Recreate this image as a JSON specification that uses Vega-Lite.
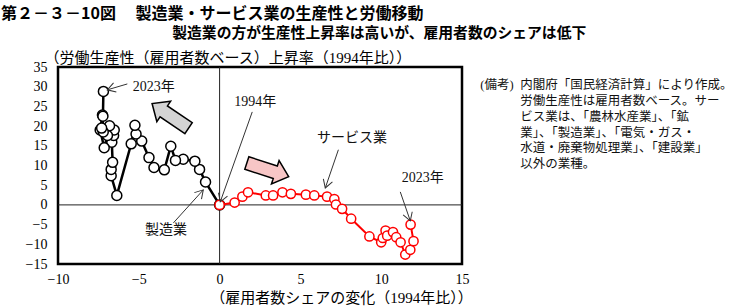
{
  "$schema": "https://vega.github.io/schema/vega-lite/v6.json",
  "width": 404,
  "height": 197,
  "autosize": "none",
  "padding": {"left": 58, "top": 67, "right": 278, "bottom": 44},
  "background": "white",
  "title": {
    "text": "第２－３－10図　 製造業・サービス業の生産性と労働移動",
    "anchor": "start",
    "frame": "group",
    "dx": -57,
    "offset": 4,
    "font": "Noto Sans CJK JP",
    "fontSize": 16,
    "fontWeight": "bold",
    "color": "black"
  },
  "config": {
    "view": {"stroke": "black", "strokeWidth": 2.5},
    "axis": {"grid": false, "labelOverlap": false}
  },
  "datasets": {
    "mfg": [
      {"i": 1, "x": 0, "y": 0},
      {"i": 2, "x": -0.87, "y": 5.8},
      {"i": 3, "x": -1.24, "y": 9.0},
      {"i": 4, "x": -1.53, "y": 11.1},
      {"i": 5, "x": -2.25, "y": 11.6},
      {"i": 6, "x": -2.73, "y": 11.3},
      {"i": 7, "x": -3.02, "y": 14.9},
      {"i": 8, "x": -3.42, "y": 8.9},
      {"i": 9, "x": -4.06, "y": 9.5},
      {"i": 10, "x": -4.37, "y": 12.0},
      {"i": 11, "x": -4.82, "y": 16.2},
      {"i": 12, "x": -5.17, "y": 18.0},
      {"i": 13, "x": -5.24, "y": 20.2},
      {"i": 14, "x": -5.47, "y": 15.5},
      {"i": 15, "x": -6.36, "y": 2.4},
      {"i": 16, "x": -6.71, "y": 7.4},
      {"i": 17, "x": -6.71, "y": 9.0},
      {"i": 18, "x": -6.62, "y": 10.8},
      {"i": 19, "x": -6.67, "y": 15.9},
      {"i": 20, "x": -6.56, "y": 17.6},
      {"i": 21, "x": -6.52, "y": 19.0},
      {"i": 22, "x": -6.81, "y": 20.1},
      {"i": 23, "x": -6.94, "y": 17.6},
      {"i": 24, "x": -7.14, "y": 14.5},
      {"i": 25, "x": -7.39, "y": 19.0},
      {"i": 26, "x": -7.25, "y": 22.8},
      {"i": 27, "x": -7.2, "y": 18.5},
      {"i": 28, "x": -7.3, "y": 19.5},
      {"i": 29, "x": -7.22, "y": 22.5},
      {"i": 30, "x": -7.19, "y": 28.8}
    ],
    "svc": [
      {"i": 1, "x": 0, "y": 0},
      {"i": 2, "x": 0.93, "y": 0.6},
      {"i": 3, "x": 1.41, "y": 2.1},
      {"i": 4, "x": 1.76, "y": 3.2},
      {"i": 5, "x": 2.86, "y": 2.4},
      {"i": 6, "x": 3.31, "y": 2.4},
      {"i": 7, "x": 3.89, "y": 3.2},
      {"i": 8, "x": 4.41, "y": 2.8},
      {"i": 9, "x": 5.34, "y": 2.6},
      {"i": 10, "x": 5.86, "y": 2.4},
      {"i": 11, "x": 6.65, "y": 2.1},
      {"i": 12, "x": 7.1, "y": 1.5},
      {"i": 13, "x": 7.2, "y": 0.1},
      {"i": 14, "x": 7.58, "y": -1.0},
      {"i": 15, "x": 8.14, "y": -3.5},
      {"i": 16, "x": 9.27, "y": -8.0},
      {"i": 17, "x": 10.0, "y": -9.5},
      {"i": 18, "x": 10.1, "y": -8.4},
      {"i": 19, "x": 10.27, "y": -6.5},
      {"i": 20, "x": 10.37, "y": -7.8},
      {"i": 21, "x": 10.73, "y": -6.9},
      {"i": 22, "x": 10.93, "y": -8.2},
      {"i": 23, "x": 11.2, "y": -9.5},
      {"i": 24, "x": 11.49, "y": -12.6},
      {"i": 25, "x": 11.8, "y": -11.4},
      {"i": 26, "x": 12.0, "y": -9.2},
      {"i": 27, "x": 11.82, "y": -5.0}
    ],
    "zero": [
      {"x": -10, "x2": 15, "y": 0, "y2": 0},
      {"x": 0, "x2": 0, "y": -15, "y2": 35}
    ],
    "leaders": [
      {"x": -5.71, "y": 30.7, "x2": -6.95, "y2": 29.2},
      {"x": 2.02, "y": 23.6, "x2": 0.04, "y2": 0.76},
      {"x": 7.35, "y": 14.0, "x2": 6.54, "y2": 4.3},
      {"x": 11.18, "y": 3.3, "x2": 11.8, "y2": -4.06},
      {"x": -2.86, "y": -4.57, "x2": -1.01, "y2": 3.81}
    ],
    "labels": [
      {"x": -4.08, "y": 30.0, "label": "2023年"},
      {"x": 2.21, "y": 26.2, "label": "1994年"},
      {"x": 8.19, "y": 16.9, "label": "サービス業"},
      {"x": 12.57, "y": 6.8, "label": "2023年"},
      {"x": -3.31, "y": -6.35, "label": "製造業"}
    ],
    "notes": [
      {"x": 16.13, "y": 30.5, "label": "(備考)"},
      {"x": 18.6, "y": 30.5, "label": "内閣府「国民経済計算」により作成。"},
      {"x": 18.6, "y": 26.4, "label": "労働生産性は雇用者数ベース。サー"},
      {"x": 18.6, "y": 22.4, "label": "ビス業は、「農林水産業」、「鉱"},
      {"x": 18.6, "y": 18.3, "label": "業」、「製造業」、「電気・ガス・"},
      {"x": 18.6, "y": 14.4, "label": "水道・廃棄物処理業」、「建設業」"},
      {"x": 18.6, "y": 10.5, "label": "以外の業種。"}
    ],
    "subtitle": [
      {"x": 9.88, "y": 43.5, "label": "製造業の方が生産性上昇率は高いが、雇用者数のシェアは低下"}
    ]
  },
  "layer": [
    {
      "data": {"name": "mfg"},
      "mark": {"type": "line", "color": "black", "strokeWidth": 2.5},
      "encoding": {
        "x": {
          "field": "x", "type": "quantitative",
          "scale": {"domain": [-10, 15], "nice": false, "zero": false},
          "axis": {
            "values": [-10, -5, 0, 5, 10, 15],
            "tickCount": 20,
            "domain": false, "ticks": false, "tickSize": 0,
            "labelOverlap": false, "labelFlush": false,
            "labelFont": "Liberation Serif", "labelFontSize": 14, "labelColor": "black",
            "labelPadding": 8,
            "title": "（雇用者数シェアの変化（1994年比））",
            "titleFont": "Liberation Serif, Noto Sans CJK JP",
            "titleFontSize": 15, "titleFontWeight": "normal", "titleColor": "black",
            "titleX": 283, "titleY": 33, "titleAlign": "center", "titleBaseline": "middle"
          }
        },
        "y": {
          "field": "y", "type": "quantitative",
          "scale": {"domain": [-15, 35], "nice": false, "zero": false},
          "axis": {
            "values": [-15, -10, -5, 0, 5, 10, 15, 20, 25, 30, 35],
            "tickCount": 20,
            "domain": false, "ticks": false, "tickSize": 0,
            "labelOverlap": false, "labelFlush": false, "labelBaseline": "middle",
            "labelFont": "Liberation Serif", "labelFontSize": 14, "labelColor": "black",
            "labelPadding": 11,
            "title": "（労働生産性（雇用者数ベース）上昇率（1994年比））",
            "titleFont": "Liberation Serif, Noto Sans CJK JP",
            "titleFontSize": 15, "titleFontWeight": "normal", "titleColor": "black",
            "titleAngle": 0, "titleX": -14, "titleY": -10, "titleAlign": "left", "titleBaseline": "middle"
          }
        },
        "order": {"field": "i", "type": "quantitative"}
      }
    },
    {
      "data": {"name": "zero"},
      "mark": {"type": "rule", "color": "#222", "strokeWidth": 1},
      "encoding": {
        "x": {"field": "x", "type": "quantitative"},
        "x2": {"field": "x2"},
        "y": {"field": "y", "type": "quantitative"},
        "y2": {"field": "y2"}
      }
    },
    {
      "data": {"name": "mfg"},
      "mark": {"type": "circle", "fill": "white", "fillOpacity": 1, "stroke": "black", "strokeWidth": 1.5, "size": 100, "opacity": 1},
      "encoding": {
        "x": {"field": "x", "type": "quantitative"},
        "y": {"field": "y", "type": "quantitative"}
      }
    },
    {
      "data": {"name": "svc"},
      "mark": {"type": "line", "color": "#ff0000", "strokeWidth": 2},
      "encoding": {
        "x": {"field": "x", "type": "quantitative"},
        "y": {"field": "y", "type": "quantitative"},
        "order": {"field": "i", "type": "quantitative"}
      }
    },
    {
      "data": {"name": "svc"},
      "mark": {"type": "circle", "fill": "white", "fillOpacity": 1, "stroke": "#ff0000", "strokeWidth": 1.5, "size": 85, "opacity": 1},
      "encoding": {
        "x": {"field": "x", "type": "quantitative"},
        "y": {"field": "y", "type": "quantitative"}
      }
    },
    {
      "data": {"values": [{"x": -3.05, "y": 22.6}]},
      "mark": {"type": "point", "shape": "M-1,-0.3L0.36,-0.3L0.36,-0.56L1,0L0.36,0.56L0.36,0.3L-1,0.3Z", "size": 1936, "angle": 214, "filled": true, "fill": "#d4d4d4", "stroke": "black", "strokeWidth": 1.5, "opacity": 1},
      "encoding": {
        "x": {"field": "x", "type": "quantitative"},
        "y": {"field": "y", "type": "quantitative"}
      }
    },
    {
      "data": {"values": [{"x": 2.98, "y": 8.9}]},
      "mark": {"type": "point", "shape": "M-1,-0.3L0.36,-0.3L0.36,-0.56L1,0L0.36,0.56L0.36,0.3L-1,0.3Z", "size": 1936, "angle": 18, "filled": true, "fill": "#f7c6c6", "stroke": "black", "strokeWidth": 1.5, "opacity": 1},
      "encoding": {
        "x": {"field": "x", "type": "quantitative"},
        "y": {"field": "y", "type": "quantitative"}
      }
    },
    {
      "data": {"name": "leaders"},
      "mark": {"type": "rule", "color": "#333", "strokeWidth": 1},
      "encoding": {
        "x": {"field": "x", "type": "quantitative"},
        "x2": {"field": "x2"},
        "y": {"field": "y", "type": "quantitative"},
        "y2": {"field": "y2"}
      }
    },
    {
      "data": {"values": [{"x": -6.95, "y": 29.2}]},
      "mark": {"type": "point", "shape": "M-1,-0.6L0,0L-1,0.6", "size": 256, "angle": 163, "filled": false, "stroke": "#333", "strokeWidth": 1, "opacity": 1},
      "encoding": {"x": {"field": "x", "type": "quantitative"}, "y": {"field": "y", "type": "quantitative"}}
    },
    {
      "data": {"values": [{"x": 0.04, "y": 0.76}]},
      "mark": {"type": "point", "shape": "M-1,-0.6L0,0L-1,0.6", "size": 256, "angle": 110, "filled": false, "stroke": "#333", "strokeWidth": 1, "opacity": 1},
      "encoding": {"x": {"field": "x", "type": "quantitative"}, "y": {"field": "y", "type": "quantitative"}}
    },
    {
      "data": {"values": [{"x": 6.54, "y": 4.3}]},
      "mark": {"type": "point", "shape": "M-1,-0.6L0,0L-1,0.6", "size": 256, "angle": 109, "filled": false, "stroke": "#333", "strokeWidth": 1, "opacity": 1},
      "encoding": {"x": {"field": "x", "type": "quantitative"}, "y": {"field": "y", "type": "quantitative"}}
    },
    {
      "data": {"values": [{"x": 11.8, "y": -4.06}]},
      "mark": {"type": "point", "shape": "M-1,-0.6L0,0L-1,0.6", "size": 256, "angle": 71, "filled": false, "stroke": "#333", "strokeWidth": 1, "opacity": 1},
      "encoding": {"x": {"field": "x", "type": "quantitative"}, "y": {"field": "y", "type": "quantitative"}}
    },
    {
      "data": {"values": [{"x": -1.01, "y": 3.81}]},
      "mark": {"type": "point", "shape": "M-1,-0.6L0,0L-1,0.6", "size": 256, "angle": 312, "filled": false, "stroke": "#333", "strokeWidth": 1, "opacity": 1},
      "encoding": {"x": {"field": "x", "type": "quantitative"}, "y": {"field": "y", "type": "quantitative"}}
    },
    {
      "data": {"name": "labels"},
      "mark": {"type": "text", "font": "Liberation Serif, Noto Sans CJK JP", "fontSize": 14, "color": "#111", "align": "center", "baseline": "middle"},
      "encoding": {
        "x": {"field": "x", "type": "quantitative"},
        "y": {"field": "y", "type": "quantitative"},
        "text": {"field": "label"}
      }
    },
    {
      "data": {"name": "notes"},
      "mark": {"type": "text", "font": "Liberation Serif, Noto Sans CJK JP", "fontSize": 12.5, "color": "#111", "align": "left", "baseline": "middle"},
      "encoding": {
        "x": {"field": "x", "type": "quantitative"},
        "y": {"field": "y", "type": "quantitative"},
        "text": {"field": "label"}
      }
    },
    {
      "data": {"name": "subtitle"},
      "mark": {"type": "text", "font": "Noto Sans CJK JP", "fontSize": 14.8, "fontWeight": "bold", "color": "black", "align": "center", "baseline": "middle"},
      "encoding": {
        "x": {"field": "x", "type": "quantitative"},
        "y": {"field": "y", "type": "quantitative"},
        "text": {"field": "label"}
      }
    }
  ]
}
